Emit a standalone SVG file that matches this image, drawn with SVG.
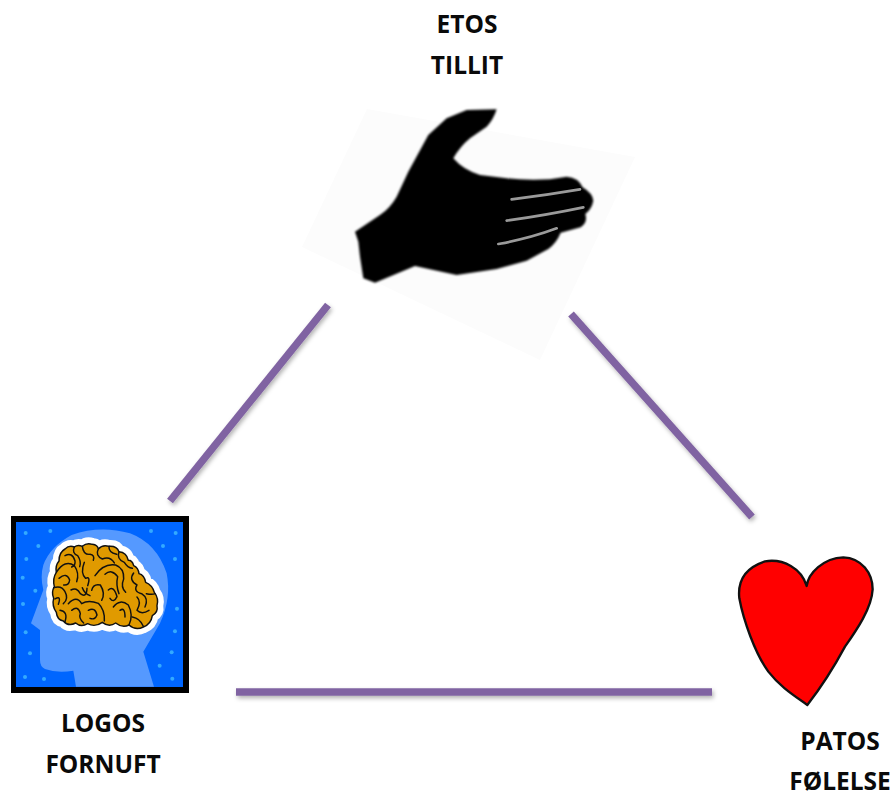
<svg xmlns="http://www.w3.org/2000/svg" width="892" height="794" viewBox="0 0 892 794">
<style>
text{font-family:"Open Sans","Liberation Sans",sans-serif;font-weight:700;font-size:24.5px;fill:#0a0a0a;text-anchor:middle}
.conn{stroke:#8064a2;stroke-width:7.5;fill:none;filter:url(#sh)}
.fold{fill:none;stroke:#111;stroke-width:4.4;stroke-linecap:round;stroke-linejoin:round}
.dot{fill:#33aaff}
</style>
<defs>
<filter id="sh" x="0" y="0" width="892" height="794" filterUnits="userSpaceOnUse">
<feDropShadow dx="1.5" dy="2.5" stdDeviation="2" flood-color="#000" flood-opacity=".3"/>
</filter>
<filter id="soft" x="-5%" y="-5%" width="110%" height="110%"><feGaussianBlur stdDeviation="3.5"/></filter>
<filter id="soft2" x="-5%" y="-20%" width="110%" height="140%"><feGaussianBlur stdDeviation="1.5"/></filter>
<path id="brainShape" d="M60 42Q72 30 88 36Q98 28 112 34Q125 22 142 28Q158 30 160 42Q172 28 192 34Q215 32 222 50Q245 52 250 76Q262 76 266 92Q280 98 282 116Q298 120 302 142Q322 150 328 172Q342 190 336 212Q340 232 322 242Q318 268 295 276Q272 288 252 270Q232 280 212 264Q192 278 172 262Q150 278 128 266Q108 278 92 264Q70 276 55 258Q36 254 34 232Q20 212 26 190Q18 172 28 155Q22 130 34 112Q30 92 42 78Q42 52 60 42Z"/>
</defs>
<rect width="892" height="794" fill="#fff"/>
<g id="connectors">
<path class="conn" d="M328 305L170 501"/>
<path class="conn" d="M571 314L752 517"/>
<path class="conn" d="M236 692H712"/>
</g>
<g id="etos">
<polygon points="367,109 635,157 540,360 302,247" fill="#fcfcfc"/>
<g transform="translate(300 100) scale(.3333)">
<path filter="url(#soft)" fill="#000" d="M165 395L240 345Q270 325 290 290L325 215L385 105L440 55L500 30L590 28Q580 60 560 80L510 115Q480 140 460 175Q490 210 540 225L620 235Q680 242 750 238L800 230Q835 232 848 262Q878 280 880 302Q875 328 856 342Q864 368 842 382L782 398Q770 428 745 447L680 482L590 507L470 525Q400 510 345 498L225 548L190 535L180 470L175 425Z"/>
<path filter="url(#soft2)" fill="none" stroke="#9a9a9a" stroke-width="8" stroke-linecap="round" d="M635 298Q740 285 840 268M620 362Q740 345 850 322M595 432Q690 415 770 385"/>
</g>
<text x="467" y="33">ETOS</text>
<text x="467" y="74">TILLIT</text>
</g>
<g id="logos">
<rect x="11" y="516" width="178" height="177" fill="#000"/>
<rect x="16" y="522" width="167" height="165" fill="#0066ff"/>
<g transform="translate(0 505) scale(.3333)">
<path fill="#5599ff" d="M228 545L220 497Q170 505 135 492Q120 485 120 465L120 375L93 355L130 255Q120 215 130 180Q150 125 215 90Q300 60 390 85Q470 115 500 205Q515 280 480 355L430 440L462 545Z"/>
<g class="dot"><circle cx="77" cy="84" r="6"/><circle cx="151" cy="78" r="6"/><circle cx="115" cy="123" r="6"/><circle cx="79" cy="162" r="6"/><circle cx="68" cy="218" r="6"/><circle cx="106" cy="257" r="6"/><circle cx="69" cy="297" r="6"/><circle cx="77" cy="382" r="6"/><circle cx="90" cy="445" r="6"/><circle cx="75" cy="516" r="6"/><circle cx="132" cy="522" r="6"/><circle cx="453" cy="78" r="6"/><circle cx="527" cy="84" r="6"/><circle cx="489" cy="123" r="6"/><circle cx="525" cy="162" r="6"/><circle cx="531" cy="311" r="6"/><circle cx="525" cy="379" r="6"/><circle cx="515" cy="442" r="6"/><circle cx="479" cy="482" r="6"/><circle cx="517" cy="521" r="6"/></g>
</g>
<g transform="translate(45 535) scale(.3333)">
<use href="#brainShape" fill="#fff" stroke="#fff" stroke-width="38" stroke-linejoin="round"/>
<use href="#brainShape" fill="#e09a00" stroke="#111" stroke-width="4.4" stroke-linejoin="round"/>
<path class="fold" d="M88 36Q80 55 98 62Q110 80 104 95M60 62Q82 50 90 78Q92 92 80 96M112 34Q115 60 135 58Q150 60 145 76M160 42Q150 62 172 72Q195 62 208 84M192 34Q190 52 215 58M222 50Q214 72 238 82Q248 98 262 100M34 112Q60 72 88 92Q104 115 95 140M42 130Q65 110 74 135Q72 152 56 150M118 82Q105 115 122 130Q138 122 128 152M150 122Q175 84 212 90Q238 100 236 132Q226 156 242 172M180 118Q200 100 218 125Q212 150 222 176M266 114Q250 135 276 150Q264 170 290 176Q312 190 300 216M26 158Q50 150 60 170Q72 192 55 206M78 165Q95 155 106 176Q125 190 126 160M140 166Q145 145 166 150Q182 175 170 196M190 165Q206 150 216 185Q206 206 195 190M30 192Q50 180 40 208M70 206Q95 180 110 206Q130 194 160 205Q180 225 178 258M80 226Q100 210 106 236Q100 250 116 264M130 226Q150 215 156 240Q150 256 135 250M205 216Q225 190 250 210Q266 240 252 270M225 226Q240 215 240 246M276 186Q290 200 276 226Q290 240 312 226M45 226Q70 230 60 260M262 246Q285 250 295 274M304 176Q322 180 330 176M112 158Q118 175 135 182"/>
</g>
<text x="103" y="732">LOGOS</text>
<text x="103" y="773">FORNUFT</text>
</g>
<g id="patos">
<g transform="translate(700 530) scale(.3333)">
<path fill="#ff0000" stroke="#111" stroke-width="7" stroke-linejoin="round" d="M320 168C325 130 370 84 430 82C485 84 518 130 518 178C515 235 470 300 435 350C400 415 365 470 322 525C280 495 240 470 205 425C165 370 130 270 118 205C112 150 140 112 195 94C250 85 305 115 320 168Z"/>
</g>
<text x="840" y="750">PATOS</text>
<text x="840" y="790">FØLELSE</text>
</g>
</svg>
